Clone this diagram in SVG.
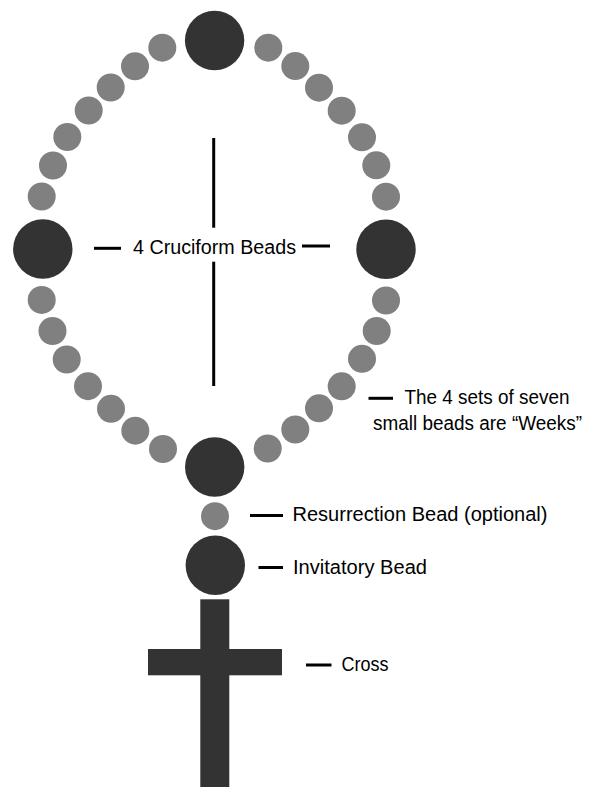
<svg xmlns="http://www.w3.org/2000/svg" width="600" height="787" viewBox="0 0 600 787">
<style>
.big{fill:#333333}
.small{fill:#808080}
.dash{stroke:#000;stroke-width:3;fill:none}
.lbl{font-family:"Liberation Sans",Arial,sans-serif;font-size:20px;fill:#000}
</style>
<rect width="600" height="787" fill="#fff"/>
<g id="connectors">
<line class="dash" x1="213.7" y1="138" x2="213.7" y2="227.7" stroke-width="2.8"/>
<line class="dash" x1="213.7" y1="261.7" x2="213.7" y2="386" stroke-width="2.8"/>
<line class="dash" x1="94" y1="248.3" x2="121" y2="248.3"/>
<line class="dash" x1="302" y1="246" x2="330" y2="246"/>
<line class="dash" x1="368.5" y1="398.3" x2="393" y2="398.3"/>
<line class="dash" x1="250" y1="515.5" x2="283" y2="515.5"/>
<line class="dash" x1="258.5" y1="567.5" x2="283" y2="567.5"/>
<line class="dash" x1="306" y1="665" x2="331.5" y2="665"/>
</g>
<g id="cruciform-beads">
<circle class="big" cx="214.6" cy="40.5" r="29.7"/>
<circle class="big" cx="42.8" cy="249" r="29.7"/>
<circle class="big" cx="386" cy="249.3" r="29.7"/>
<circle class="big" cx="214.7" cy="467" r="29.7"/>
</g>
<g id="week-beads">
<circle class="small" cx="162.3" cy="47.7" r="14"/>
<circle class="small" cx="135" cy="66.3" r="14"/>
<circle class="small" cx="110.7" cy="87.5" r="14"/>
<circle class="small" cx="88.7" cy="110.5" r="14"/>
<circle class="small" cx="67.3" cy="137" r="14"/>
<circle class="small" cx="53" cy="165.5" r="14"/>
<circle class="small" cx="41.7" cy="196.5" r="14"/>
<circle class="small" cx="268.3" cy="47.7" r="14"/>
<circle class="small" cx="295.3" cy="66.1" r="14"/>
<circle class="small" cx="319" cy="87.7" r="14"/>
<circle class="small" cx="341.7" cy="110.7" r="14"/>
<circle class="small" cx="362" cy="137.3" r="14"/>
<circle class="small" cx="376.3" cy="165.3" r="14"/>
<circle class="small" cx="386" cy="196.7" r="14"/>
<circle class="small" cx="41.7" cy="299.9" r="14"/>
<circle class="small" cx="52.5" cy="331" r="14"/>
<circle class="small" cx="66.7" cy="359.5" r="14"/>
<circle class="small" cx="88" cy="386.2" r="14"/>
<circle class="small" cx="111" cy="408.8" r="14"/>
<circle class="small" cx="135.3" cy="430.7" r="14"/>
<circle class="small" cx="163" cy="449" r="14"/>
<circle class="small" cx="386" cy="300.5" r="14"/>
<circle class="small" cx="376.7" cy="331" r="14"/>
<circle class="small" cx="362" cy="358.8" r="14"/>
<circle class="small" cx="341.7" cy="386.3" r="14"/>
<circle class="small" cx="319" cy="408.3" r="14"/>
<circle class="small" cx="295.3" cy="429.5" r="14"/>
<circle class="small" cx="267.7" cy="448.5" r="14"/>
</g>
<g id="resurrection-bead">
<circle class="small" cx="215" cy="516.2" r="14"/>
</g>
<g id="invitatory-bead">
<circle class="big" cx="215.3" cy="565.3" r="29.7"/>
</g>
<g id="cross">
<rect class="big" x="200.3" y="599.3" width="29" height="188"/>
<rect class="big" x="148" y="649" width="134" height="26.3"/>
</g>
<g id="labels">
<text class="lbl" x="133" y="254.3" textLength="163" lengthAdjust="spacingAndGlyphs">4 Cruciform Beads</text>
<text class="lbl" x="404.5" y="403.5" textLength="165" lengthAdjust="spacingAndGlyphs">The 4 sets of seven</text>
<text class="lbl" x="373" y="429.5" textLength="209" lengthAdjust="spacingAndGlyphs">small beads are “Weeks”</text>
<text class="lbl" x="292.5" y="521" textLength="255" lengthAdjust="spacingAndGlyphs">Resurrection Bead (optional)</text>
<text class="lbl" x="293" y="573.5" textLength="134" lengthAdjust="spacingAndGlyphs">Invitatory Bead</text>
<text class="lbl" x="341.5" y="670.8" textLength="47" lengthAdjust="spacingAndGlyphs">Cross</text>
</g>
</svg>
